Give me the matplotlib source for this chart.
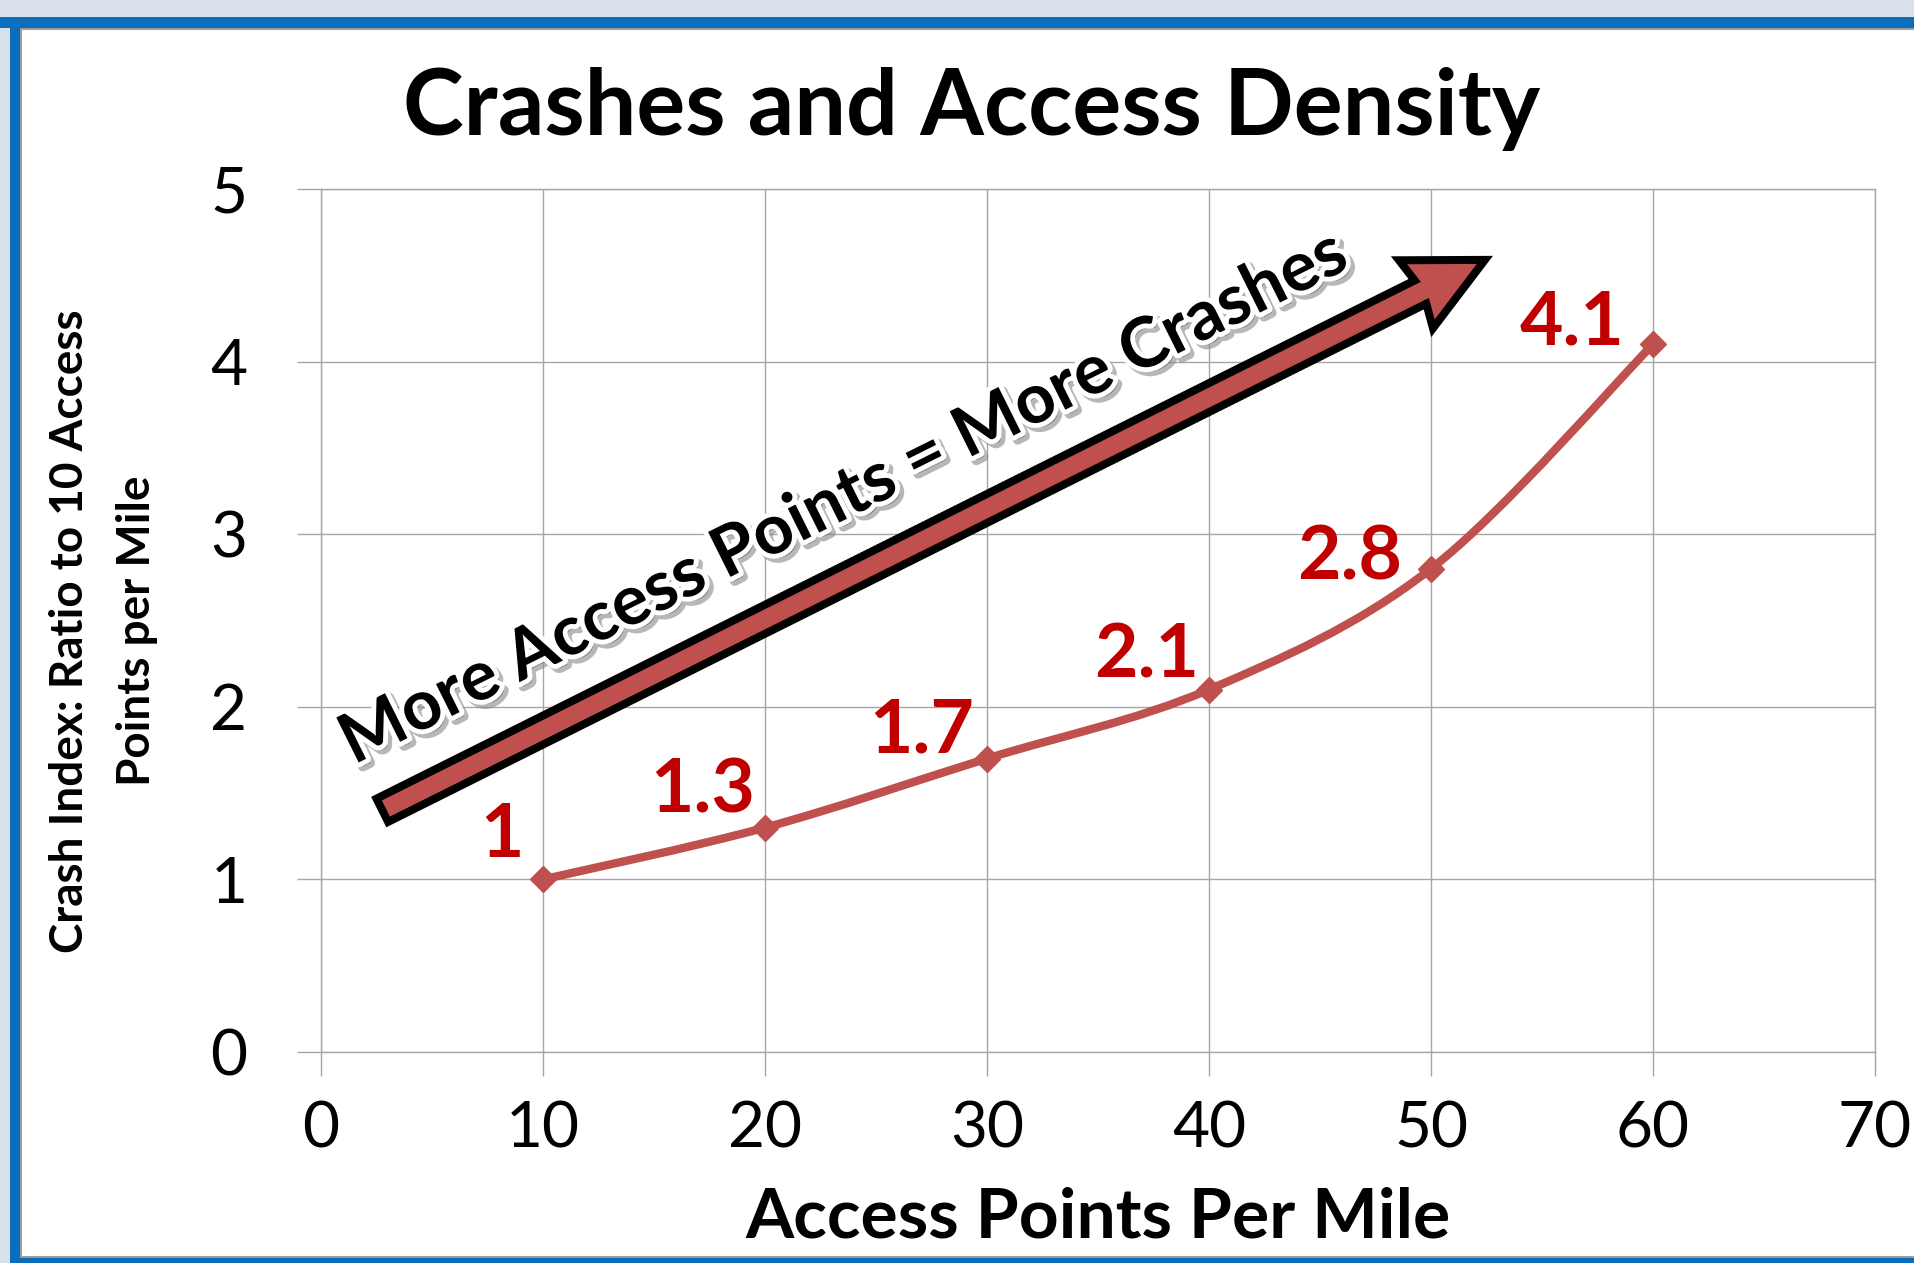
import numpy as np
import matplotlib
matplotlib.use('Agg')
import matplotlib.pyplot as plt
from matplotlib.path import Path
from matplotlib.patches import PathPatch, Polygon, Rectangle
from matplotlib.transforms import Affine2D, IdentityTransform
import matplotlib.patheffects as pe

# values
AccessPoints = [10, 20, 30, 40, 50, 60]
CrashIndex = [1, 1.3, 1.7, 2.1, 2.8, 4.1]
PointLabels = ['1', '1.3', '1.7', '2.1', '2.8', '4.1']
XTicks = [0, 10, 20, 30, 40, 50, 60, 70]
YTicks = [0, 1, 2, 3, 4, 5]

Title = 'Crashes and Access Density'
XLabel = 'Access Points Per Mile'
YLabel = ['Crash Index: Ratio to 10 Access', 'Points per Mile']
ArrowText = 'More Access Points = More Crashes'

# label offsets in pixels (right edge / baseline of label vs. the point)
LabelOffsets = [(-19, 22), (-10, 15), (-13, 6), (-10, 12), (-29, -11), (-28, 0)]
# arrow overlay, in data units
ArrowTail = (2.6, 1.39)
ArrowTip = (52.75, 4.61)
ArrowTextPos = (23.6, 3.21)

W, H = 1915, 1263
LineColor = '#C0504D'
LabelColor = '#C00000'
GridColor = '#A6A6A6'
plt.rcParams['font.family'] = 'Lato'


def SmoothPath(x, y):
    # Excel-like smoothed line (Catmull-Rom as cubic Beziers)
    P = np.column_stack((x, y)).astype(float)
    n = len(P)
    verts = [P[0]]
    codes = [Path.MOVETO]
    for i in range(n - 1):
        prev = P[i - 1] if i > 0 else P[i]
        nxt = P[i + 2] if i + 2 < n else P[i + 1]
        verts += [P[i] + (P[i + 1] - prev) / 6, P[i + 1] - (nxt - P[i]) / 6, P[i + 1]]
        codes += [Path.CURVE4] * 3
    return Path(verts, codes)


def FigRect(x0, y0, x1, y1, color):
    # box in image pixels (y down) -> figure rectangle
    fig.patches.append(Rectangle((x0 / W, 1 - y1 / H), (x1 - x0) / W, (y1 - y0) / H,
                                 transform=fig.transFigure, color=color, lw=0, zorder=-10))


fig = plt.figure(figsize=(W / 100, H / 100), dpi=100, facecolor='white')
FigRect(0, 0, W, 17, '#D8E0EA')
FigRect(0, 0, 10, H, '#D8E0EA')
FigRect(0, 17, W, 28, '#0A6EBD')
FigRect(10, 17, 20, H, '#0A6EBD')
FigRect(10, 1258, W, H, '#0A6EBD')
FigRect(20, 28, W, 30, '#9C9C9C')
FigRect(20, 28, 22, 1258, '#9C9C9C')
FigRect(20, 1256, W, 1258, '#9C9C9C')

ax = fig.add_axes([321 / W, 1 - 1052 / H, (1875 - 321) / W, (1052 - 189) / H])
ax.set_xlim(0, 70)
ax.set_ylim(0, 5)
ax.set_xticks(XTicks)
ax.set_yticks(YTicks)
ax.grid(True, color=GridColor, lw=1.0)
ax.set_axisbelow(True)
for s in ax.spines.values():
    s.set_color(GridColor)
    s.set_linewidth(1.0)
ax.tick_params(length=17, width=1.0, color=GridColor, labelsize=46)
ax.tick_params(axis='x', pad=18)
ax.tick_params(axis='y', pad=36)

ax.add_patch(PathPatch(SmoothPath(AccessPoints, CrashIndex), fc='none', ec=LineColor,
                       lw=6, capstyle='round', zorder=3))
ax.plot(AccessPoints, CrashIndex, ls='none', marker='D', ms=13, color=LineColor, zorder=4)

for x, y, lab, (dx, dy) in zip(AccessPoints, CrashIndex, PointLabels, LabelOffsets):
    ax.annotate(lab, (x, y), xytext=(dx, dy), textcoords='offset pixels', ha='right',
                va='baseline', color=LabelColor, fontsize=54, fontweight='bold', zorder=5)

# big arrow drawn in display pixels along the tail->tip direction
p0 = ax.transData.transform(ArrowTail)
p1 = ax.transData.transform(ArrowTip)
d = p1 - p0
L = np.hypot(d[0], d[1])
ang = np.degrees(np.arctan2(d[1], d[0]))
hw, hh, hl, edge = 13, 38, 80, 8
shape = np.array([(edge / 2, -hw), (L - hl, -hw), (L - hl - 5, -hh), (L - edge, 0),
                  (L - hl - 5, hh), (L - hl, hw), (edge / 2, hw)])
pts = Affine2D().rotate_deg(ang).translate(p0[0], p0[1]).transform(shape)
ax.add_patch(Polygon(pts, closed=True, transform=IdentityTransform(), fc=LineColor,
                     ec='black', lw=edge * 0.72, joinstyle='miter', clip_on=False, zorder=6))

ax.text(ArrowTextPos[0], ArrowTextPos[1], ArrowText, rotation=ang, rotation_mode='anchor',
        ha='center', va='center', fontsize=50, fontweight='bold', color='black', zorder=7,
        path_effects=[pe.Stroke(offset=(3, -3), linewidth=7, foreground='#888888', alpha=0.6),
                      pe.Stroke(linewidth=7, foreground='white'), pe.Normal()])

fig.text(972 / W, 1 - 135 / H, Title, ha='center', va='baseline', fontsize=66, fontweight='bold')
fig.text(1098 / W, 1 - 1237 / H, XLabel, ha='center', va='baseline', fontsize=50, fontweight='bold')
fig.text(83 / W, 1 - 631 / H, YLabel[0], rotation=90, rotation_mode='anchor', ha='center',
         va='baseline', fontsize=33, fontweight='bold')
fig.text(150 / W, 1 - 631 / H, YLabel[1], rotation=90, rotation_mode='anchor', ha='center',
         va='baseline', fontsize=33, fontweight='bold')

fig.savefig('out.png', dpi=100, facecolor='white')
